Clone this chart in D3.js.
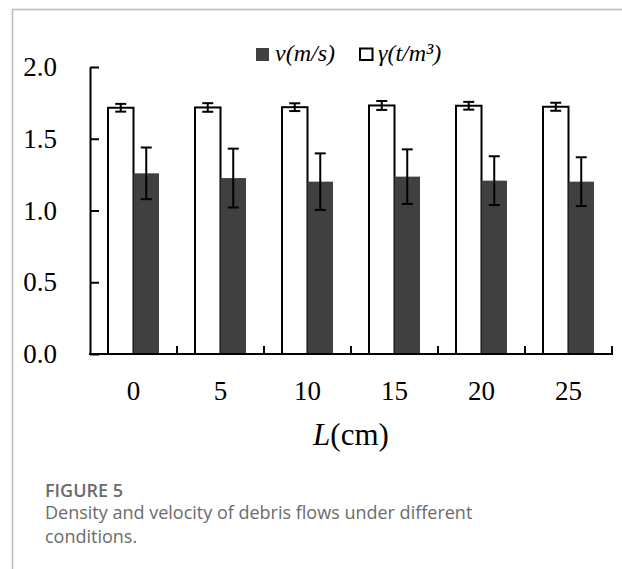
<!DOCTYPE html>
<html>
<head>
    <title>Figure 5</title>
    <script src="https://d3js.org/d3.v7.min.js"></script>
    <style>
        body { margin: 0; background: #fff; }
        .caption-title { font-family: "Open Sans", sans-serif; font-size: 18px; font-weight: 600; fill: #6b6b6b; }
        .caption-text { font-family: "Open Sans", sans-serif; font-size: 18px; fill: #6b6b6b; }
        .chart text { font-family: "Liberation Serif", "Times New Roman", serif; fill: #000; }
    </style>
</head>
<body>
<div id="chart"></div>
<script>
    // values
    let categories = ["0", "5", "10", "15", "20", "25"];
    let gamma = [1.716, 1.718, 1.72, 1.732, 1.73, 1.723];     // density t/m3
    let gammaErr = [0.027, 0.03, 0.027, 0.031, 0.027, 0.028];
    let velocity = [1.259, 1.226, 1.201, 1.236, 1.208, 1.201]; // m/s
    let velocityErr = [0.18, 0.205, 0.197, 0.19, 0.17, 0.17];
    let yTicks = [0, 0.5, 1.0, 1.5, 2.0];

    let width = 622, height = 569;
    let svg = d3.select("#chart").append("svg")
        .attr("width", width)
        .attr("height", height);

    // frame of the figure panel
    svg.append("path")
        .attr("d", "M12.5," + height + "V9.5H" + width)
        .attr("fill", "none")
        .attr("stroke", "#bdbdbd")
        .attr("stroke-width", 1.5);

    let plotLeft = 90, plotRight = 612, plotTop = 67, plotBottom = 354;

    let x0 = d3.scaleBand()
        .domain(categories)
        .range([plotLeft, plotRight])
        .paddingInner(0.414)
        .paddingOuter(0.207);

    let x1 = d3.scaleBand()
        .domain(["gamma", "v"])
        .range([0, x0.bandwidth()]);

    let y = d3.scaleLinear()
        .domain([0, 2])
        .range([plotBottom, plotTop]);

    let g = svg.append("g").attr("class", "chart");

    let rows = categories.map((c, i) => ({
        cat: c, gamma: gamma[i], gErr: gammaErr[i], v: velocity[i], vErr: velocityErr[i]
    }));

    // density bars (white)
    g.selectAll(".bar-g")
        .data(rows)
        .enter().append("rect")
        .attr("class", "bar-g")
        .attr("x", d => x0(d.cat) + x1("gamma"))
        .attr("y", d => y(d.gamma))
        .attr("width", x1.bandwidth())
        .attr("height", d => y(0) - y(d.gamma))
        .attr("fill", "#fff")
        .attr("stroke", "#000")
        .attr("stroke-width", 2);

    // velocity bars (dark)
    g.selectAll(".bar-v")
        .data(rows)
        .enter().append("rect")
        .attr("class", "bar-v")
        .attr("x", d => x0(d.cat) + x1("v"))
        .attr("y", d => y(d.v))
        .attr("width", x1.bandwidth())
        .attr("height", d => y(0) - y(d.v))
        .attr("fill", "#404040");

    // error bars
    function errorBars(key, errKey, sub) {
        let cap = 5.5;
        let eb = g.selectAll(".err-" + key)
            .data(rows)
            .enter().append("g")
            .attr("class", "err-" + key)
            .attr("stroke", "#000")
            .attr("stroke-width", 2);
        let cx = d => x0(d.cat) + x1(sub) + x1.bandwidth() / 2;
        eb.append("line")
            .attr("x1", cx).attr("x2", cx)
            .attr("y1", d => y(d[key] + d[errKey]))
            .attr("y2", d => y(d[key] - d[errKey]));
        eb.append("line")
            .attr("x1", d => cx(d) - cap).attr("x2", d => cx(d) + cap)
            .attr("y1", d => y(d[key] + d[errKey]))
            .attr("y2", d => y(d[key] + d[errKey]));
        eb.append("line")
            .attr("x1", d => cx(d) - cap).attr("x2", d => cx(d) + cap)
            .attr("y1", d => y(d[key] - d[errKey]))
            .attr("y2", d => y(d[key] - d[errKey]));
    }
    errorBars("gamma", "gErr", "gamma");
    errorBars("v", "vErr", "v");

    // y axis, ticks pointing inward
    let yAxis = g.append("g")
        .attr("transform", "translate(" + plotLeft + ",0)")
        .call(d3.axisLeft(y)
            .tickValues(yTicks)
            .tickFormat(d3.format(".1f"))
            .tickSizeInner(-9)
            .tickSizeOuter(0)
            .tickPadding(33));
    yAxis.selectAll("path, line").attr("stroke", "#000").attr("stroke-width", 2);
    yAxis.selectAll("text").style("font-size", "27px");

    // x axis: labels at centres, ticks at category boundaries
    let xAxis = g.append("g")
        .attr("transform", "translate(0," + plotBottom + ")")
        .call(d3.axisBottom(x0).tickSize(0).tickPadding(27));
    xAxis.select(".domain").attr("stroke", "#000").attr("stroke-width", 2)
        .attr("d", "M" + (plotLeft - 1) + ",0H" + (plotRight + 1));
    xAxis.selectAll("text").style("font-size", "27px");
    xAxis.selectAll(".bound")
        .data(categories)
        .enter().append("line")
        .attr("class", "bound")
        .attr("x1", c => x0(c) + x0.bandwidth() + x0.step() * x0.paddingInner() / 2)
        .attr("x2", c => x0(c) + x0.bandwidth() + x0.step() * x0.paddingInner() / 2)
        .attr("y1", 0)
        .attr("y2", -8)
        .attr("stroke", "#000")
        .attr("stroke-width", 2);

    // x axis title
    let xt = g.append("text")
        .attr("x", (plotLeft + plotRight) / 2)
        .attr("y", 445)
        .attr("text-anchor", "middle")
        .style("font-size", "31px");
    xt.append("tspan").style("font-style", "italic").text("L");
    xt.append("tspan").text("(cm)");

    // legend
    g.append("rect")
        .attr("x", 256).attr("y", 48).attr("width", 13).attr("height", 13)
        .attr("fill", "#404040");
    g.append("text")
        .attr("x", 275).attr("y", 61)
        .style("font-size", "24px").style("font-style", "italic")
        .text("v(m/s)");
    g.append("rect")
        .attr("x", 360).attr("y", 48.5).attr("width", 12.5).attr("height", 11.5)
        .attr("fill", "#fff").attr("stroke", "#000").attr("stroke-width", 2);
    g.append("text")
        .attr("x", 378).attr("y", 61)
        .style("font-size", "24px").style("font-style", "italic")
        .text("γ(t/m³)");

    // caption
    svg.append("text").attr("class", "caption-title")
        .attr("x", 45).attr("y", 497).text("FIGURE 5");
    svg.append("text").attr("class", "caption-text")
        .attr("x", 45).attr("y", 519).text("Density and velocity of debris flows under different");
    svg.append("text").attr("class", "caption-text")
        .attr("x", 45).attr("y", 543).text("conditions.");
</script>
</body>
</html>
